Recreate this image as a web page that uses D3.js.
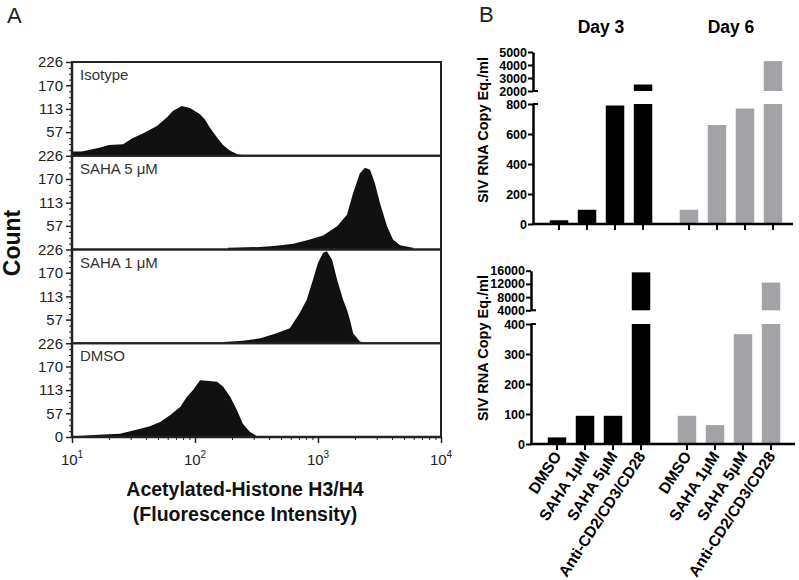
<!DOCTYPE html>
<html><head><meta charset="utf-8">
<script src="https://cdn.jsdelivr.net/npm/d3@7"></script>
<style>
body{margin:0;background:#fff}
svg{display:block}
text{font-family:Arial,"Liberation Sans",Helvetica,sans-serif}
</style>
</head><body>
<svg id="c" width="799" height="580"></svg>
<script>
// ---------- Panel A data (fluorescence intensity, count) ----------
const panelLabels = ["Isotype", "SAHA 5 \u03BCM", "SAHA 1 \u03BCM", "DMSO"];
const isotypeF     = [10, 12, 17, 20, 26, 31, 38, 49, 59, 66, 78, 91, 110, 120, 132, 151, 169, 193, 219, 255];
const isotypeCount = [10, 10, 20, 26, 28, 42, 54, 72, 92, 108, 120, 115, 100, 88, 68, 44, 26, 12, 4, 0];
const saha5F       = [185, 340, 460, 630, 860, 1100, 1430, 1720, 1930, 2190, 2410, 2650, 2900, 3190, 3640, 4070, 4650, 5920];
const saha5Count   = [4, 6, 9, 14, 24, 34, 56, 84, 136, 184, 197, 192, 160, 112, 56, 24, 10, 4];
const saha1F       = [170, 245, 340, 460, 590, 710, 810, 910, 1000, 1100, 1180, 1300, 1430, 1600, 1720, 1820, 1930, 2190, 2410];
const saha1Count   = [3, 6, 12, 24, 36, 73, 105, 153, 194, 218, 222, 202, 153, 105, 81, 56, 24, 4, 1];
const dmsoF        = [10.6, 14, 18, 24.5, 34, 43, 52, 63, 76, 86, 96, 110, 132, 151, 169, 193, 219, 245, 280, 319];
const dmsoCount    = [2, 4, 6, 8, 18, 26, 36, 53, 73, 97, 113, 137, 135, 133, 122, 97, 65, 32, 12, 2];
const countTicks = [0, 57, 113, 170, 226];
const fluorTicks = [10, 100, 1000, 10000];
const fluorExp = ["1", "2", "3", "4"];

// ---------- Panel B data ----------
const treatments = ["DMSO", "SAHA 1\u03BCM", "SAHA 5\u03BCM", "Anti-CD2/CD3/CD28"];
const days = ["Day 3", "Day 6"];
const topDay3 = [25, 95, 790, 2500];
const topDay6 = [95, 660, 770, 4300];
const botDay3 = [22, 94, 94, 15500];
const botDay6 = [94, 63, 366, 12400];
const topLowTicks = [0, 200, 400, 600, 800];
const topHighTicks = [2000, 3000, 4000, 5000];
const botLowTicks = [0, 100, 200, 300, 400];
const botHighTicks = [4000, 8000, 12000, 16000];

const svg = d3.select("#c");
const FONT = 'Arial,"Liberation Sans",Helvetica,sans-serif';

// ================= Panel A =================
svg.append("text").attr("x", 7).attr("y", 23).attr("font-size", 22).attr("fill", "#222").text("A");

const A = {left: 72, right: 441, top: 62, bottom: 437};
const hists = [
  {label: panelLabels[0], f: isotypeF, c: isotypeCount},
  {label: panelLabels[1], f: saha5F, c: saha5Count},
  {label: panelLabels[2], f: saha1F, c: saha1Count},
  {label: panelLabels[3], f: dmsoF, c: dmsoCount}
];
const nP = hists.length, ph = (A.bottom - A.top) / nP;
const x = d3.scaleLog().domain([10, 10000]).range([A.left, A.right]);

hists.forEach((h, i) => {
  const top = A.top + i * ph, bot = top + ph;
  const y = d3.scaleLinear().domain([0, 226]).range([bot, top]);
  const pts = h.f.map((f, j) => ({f, c: h.c[j]}));
  svg.append("path").datum(pts)
    .attr("d", d3.area().x(d => x(d.f)).y0(bot).y1(d => y(d.c)))
    .attr("fill", "#111");
  svg.append("rect").attr("x", A.left).attr("y", top).attr("width", A.right - A.left).attr("height", ph)
    .attr("fill", "none").attr("stroke", "#222").attr("stroke-width", 2);
  svg.append("text").attr("x", 80).attr("y", top + 18).attr("font-size", 15).attr("fill", "#333").text(h.label);

  const tv = i === nP - 1 ? countTicks : countTicks.filter(v => v > 0);
  const g = svg.append("g").attr("transform", `translate(${A.left},0)`)
    .call(d3.axisLeft(y).tickValues(tv).tickSize(6).tickPadding(3));
  g.select(".domain").remove();
  g.selectAll("line").attr("stroke", "#222").attr("stroke-width", 1.5);
  g.selectAll("text").attr("font-size", 15).attr("font-family", FONT).attr("fill", "#222");
  const minor = d3.range(1, 16).filter(k => k % 4 !== 0).map(k => k * 226 / 16);
  const gm = svg.append("g").attr("transform", `translate(${A.left},0)`)
    .call(d3.axisLeft(y).tickValues(minor).tickSize(3).tickFormat(""));
  gm.select(".domain").remove();
  gm.selectAll("line").attr("stroke", "#222").attr("stroke-width", 1);
});
// left axis line
svg.append("line").attr("x1", A.left).attr("x2", A.left).attr("y1", A.top).attr("y2", A.bottom)
  .attr("stroke", "#222").attr("stroke-width", 2.5);
// bottom axis
const gx = svg.append("g").attr("transform", `translate(0,${A.bottom})`)
  .call(d3.axisBottom(x).tickValues(fluorTicks).tickSize(6).tickFormat(""));
gx.select(".domain").remove();
gx.selectAll("line").attr("stroke", "#222").attr("stroke-width", 1.5);
const minorX = [];
fluorTicks.slice(0, 3).forEach(d => d3.range(2, 10).forEach(k => minorX.push(d * k)));
const gxm = svg.append("g").attr("transform", `translate(0,${A.bottom})`)
  .call(d3.axisBottom(x).tickValues(minorX).tickSize(3).tickFormat(""));
gxm.select(".domain").remove();
gxm.selectAll("line").attr("stroke", "#222").attr("stroke-width", 1);
svg.append("line").attr("x1", A.left).attr("x2", A.right).attr("y1", A.bottom).attr("y2", A.bottom)
  .attr("stroke", "#222").attr("stroke-width", 2.5);
fluorTicks.forEach((v, i) => {
  const t = svg.append("text").attr("x", x(v)).attr("y", A.bottom + 28).attr("text-anchor", "middle")
    .attr("font-size", 15).attr("fill", "#222");
  t.append("tspan").text("10");
  t.append("tspan").attr("dy", -7).attr("font-size", 10).text(fluorExp[i]);
});
svg.append("text").attr("transform", "translate(20,243) rotate(-90)").attr("text-anchor", "middle")
  .attr("font-size", 23).attr("font-weight", "bold").attr("fill", "#111").text("Count");
svg.append("text").attr("x", 245).attr("y", 496).attr("text-anchor", "middle")
  .attr("font-size", 19.5).attr("font-weight", "bold").attr("fill", "#111").text("Acetylated-Histone H3/H4");
svg.append("text").attr("x", 245).attr("y", 521).attr("text-anchor", "middle")
  .attr("font-size", 19.5).attr("font-weight", "bold").attr("fill", "#111").text("(Fluorescence Intensity)");

// ================= Panel B =================
svg.append("text").attr("x", 479).attr("y", 22).attr("font-size", 22).attr("fill", "#222").text("B");

const colors = {"Day 3": "#000", "Day 6": "#a3a3a7"};

function barChart(cfg) {
  const yLow = d3.scaleLinear().domain(cfg.lowDomain).range(cfg.lowRange);
  const yHigh = d3.scaleLinear().domain(cfg.highDomain).range(cfg.highRange);
  const xg = d3.scaleBand().domain(days).range(cfg.groupRange).paddingInner(0.138).paddingOuter(0);
  const xi = d3.scaleBand().domain(treatments).range([0, xg.bandwidth()]).paddingInner(0.34).paddingOuter(0.17);
  const baseY = cfg.lowRange[0];
  const series = [{day: "Day 3", vals: cfg.d3v}, {day: "Day 6", vals: cfg.d6v}];
  const lowMax = cfg.lowDomain[1], highMin = cfg.highDomain[0];

  series.forEach(s => {
    s.vals.forEach((v, j) => {
      const bx = xg(s.day) + xi(treatments[j]);
      const yl = yLow(Math.min(v, lowMax));
      svg.append("rect").attr("x", bx).attr("y", yl).attr("width", xi.bandwidth()).attr("height", baseY - yl)
        .attr("fill", colors[s.day]);
      if (v > lowMax) {
        svg.append("rect").attr("x", bx).attr("y", yHigh(v)).attr("width", xi.bandwidth())
          .attr("height", yHigh(highMin) - yHigh(v)).attr("fill", colors[s.day]);
      }
      const cx = bx + xi.bandwidth() / 2;
      svg.append("line").attr("x1", cx).attr("x2", cx).attr("y1", baseY).attr("y2", baseY + 6)
        .attr("stroke", "#000").attr("stroke-width", 2);
      if (cfg.showCats) {
        svg.append("text").attr("transform", `translate(${cx + 5},${baseY + 12}) rotate(-57)`)
          .attr("text-anchor", "end").attr("font-size", 15.5).attr("font-weight", "bold").attr("fill", "#000")
          .text(treatments[j]);
      }
    });
  });

  const styleAxis = g => {
    g.select(".domain").attr("stroke", "#000").attr("stroke-width", 2.5);
    g.selectAll(".tick line").attr("stroke", "#000").attr("stroke-width", 2);
    g.selectAll("text").attr("font-size", 12.5).attr("font-weight", "bold").attr("font-family", FONT).attr("fill", "#000");
  };
  const gl = svg.append("g").attr("transform", `translate(${cfg.axisX},0)`)
    .call(d3.axisLeft(yLow).tickValues(cfg.lowTicks).tickSize(5).tickSizeOuter(0).tickPadding(1).tickFormat(d3.format("d")));
  styleAxis(gl);
  const gh = svg.append("g").attr("transform", `translate(${cfg.axisX},0)`)
    .call(d3.axisLeft(yHigh).tickValues(cfg.highTicks).tickSize(5).tickSizeOuter(0).tickPadding(1).tickFormat(d3.format("d")));
  styleAxis(gh);
  // break caps
  [yLow(lowMax), yHigh(highMin)].forEach(yy => {
    svg.append("line").attr("x1", cfg.axisX).attr("x2", cfg.axisX + 5).attr("y1", yy).attr("y2", yy)
      .attr("stroke", "#000").attr("stroke-width", 2);
  });
  svg.append("line").attr("x1", cfg.axisX - 1).attr("x2", cfg.xEnd).attr("y1", baseY).attr("y2", baseY)
    .attr("stroke", "#000").attr("stroke-width", 2.5);
  svg.append("text").attr("transform", `translate(488,${cfg.titleY}) rotate(-90)`).attr("text-anchor", "middle")
    .attr("font-size", 14.5).attr("font-weight", "bold").attr("fill", "#000").text("SIV RNA Copy Eq./ml");
  return xg;
}

const xgTop = barChart({
  axisX: 533, xEnd: 793, groupRange: [545, 787],
  lowDomain: [0, 800], lowRange: [224, 104], highDomain: [2000, 5000], highRange: [91, 52],
  lowTicks: topLowTicks, highTicks: topHighTicks, d3v: topDay3, d6v: topDay6, showCats: false, titleY: 130
});
barChart({
  axisX: 531, xEnd: 795, groupRange: [543, 785],
  lowDomain: [0, 400], lowRange: [444, 324], highDomain: [4000, 16000], highRange: [310.3, 270.7],
  lowTicks: botLowTicks, highTicks: botHighTicks, d3v: botDay3, d6v: botDay6, showCats: true, titleY: 348
});
days.forEach(d => {
  svg.append("text").attr("x", xgTop(d) + xgTop.bandwidth() / 2).attr("y", 33).attr("text-anchor", "middle")
    .attr("font-size", 17.5).attr("font-weight", "bold").attr("fill", "#000").text(d);
});
</script>
</body></html>
